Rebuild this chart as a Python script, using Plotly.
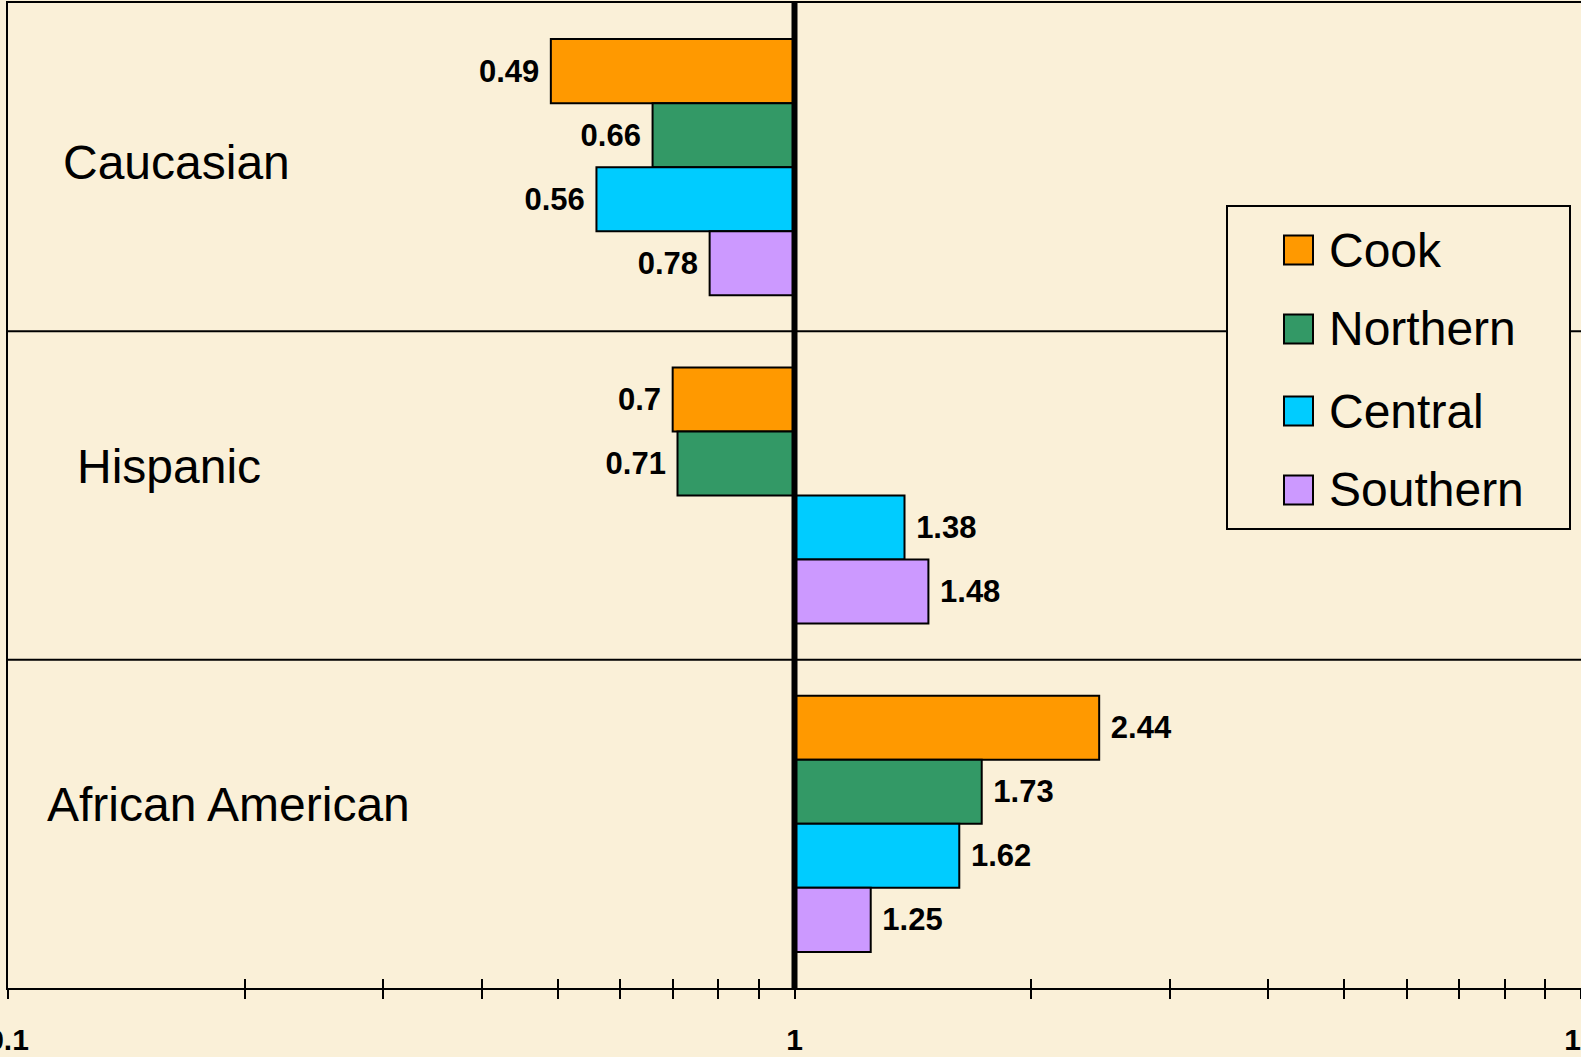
import plotly.graph_objects as go

categories = ["Caucasian", "Hispanic", "African American"]
series_names = ["Cook", "Northern", "Central", "Southern"]
series_colors = ["#FF9900", "#339966", "#00CCFF", "#CC99FF"]
cook = [0.49, 0.70, 2.44]
northern = [0.66, 0.71, 1.73]
central = [0.56, 1.38, 1.62]
southern = [0.78, 1.48, 1.25]
series_values = [cook, northern, central, southern]

major_ticks = [0.1, 1, 10]
major_tick_text = ["0.1", "1", "10"]
minor_ticks = [0.2, 0.3, 0.4, 0.5, 0.6, 0.7, 0.8, 0.9, 2, 3, 4, 5, 6, 7, 8, 9]

BG = "#FAF0D8"
FONT = "Arial, Liberation Sans, sans-serif"
BASE = 1.0

fig = go.Figure()
for name, color, vals in zip(series_names, series_colors, series_values):
    texts = [(f"{v:g}\u00a0" if v < BASE else f"\u00a0{v:g}") for v in vals]
    fig.add_trace(go.Bar(
        name=name,
        y=categories,
        x=[v - BASE for v in vals],
        base=BASE,
        orientation="h",
        marker=dict(color=color, line=dict(color="black", width=2)),
        text=texts,
        textposition="outside",
        constraintext="none",
        cliponaxis=False,
        textfont=dict(family=FONT, size=31, color="black", weight="bold"),
        showlegend=False,
        hovertemplate="%{y}: %{text}<extra>" + name + "</extra>",
    ))

# helper empty trace to draw inward tick marks on an overlay axis
fig.add_trace(go.Scatter(x=[], y=[], xaxis="x2", yaxis="y", showlegend=False))

fig.update_layout(
    width=1581, height=1057,
    margin=dict(l=8, r=0, t=3, b=69),
    paper_bgcolor=BG, plot_bgcolor=BG,
    barmode="group", bargap=0.22, bargroupgap=0,
    showlegend=False,
    xaxis=dict(
        type="log", range=[-1, 1], showgrid=False, zeroline=False,
        showline=True, linecolor="black", linewidth=2, mirror=True,
        tickvals=major_ticks, ticktext=major_tick_text,
        ticks="outside", ticklen=9, tickwidth=2, tickcolor="black",
        minor=dict(tickvals=minor_ticks, ticks="outside", ticklen=9,
                   tickwidth=2, tickcolor="black", showgrid=False),
        tickfont=dict(family=FONT, size=30, color="black", weight="bold"),
        ticklabelstandoff=15,
        ticklabeloverflow="allow",
        automargin=False,
    ),
    xaxis2=dict(
        type="log", range=[-1, 1], overlaying="x", anchor="y", side="bottom",
        showgrid=False, zeroline=False, showline=False, showticklabels=False,
        tickvals=major_ticks,
        ticks="inside", ticklen=9, tickwidth=2, tickcolor="black",
        minor=dict(tickvals=minor_ticks, ticks="inside", ticklen=9,
                   tickwidth=2, tickcolor="black", showgrid=False),
        automargin=False,
    ),
    yaxis=dict(
        type="category", categoryorder="array", categoryarray=categories,
        range=[len(categories) - 0.5, -0.5],
        showgrid=False, zeroline=False, showticklabels=False, ticks="",
        showline=True, linecolor="black", linewidth=2, mirror=False,
        automargin=False,
    ),
)

# category separator lines
for i in range(len(categories) - 1):
    fig.add_shape(type="line", xref="paper", yref="y", x0=0, x1=1,
                  y0=i + 0.5, y1=i + 0.5, line=dict(color="black", width=2),
                  layer="below")

# reference line at 1
fig.add_shape(type="line", xref="x", yref="paper", x0=BASE, x1=BASE, y0=0, y1=1,
              line=dict(color="black", width=6), layer="above")

# category labels inside the plot
label_pos = {"Caucasian": (0.034, 0.8376), "Hispanic": (0.0425, 0.529),
             "African American": (0.0238, 0.1868)}
for cat in categories:
    lx, ly = label_pos[cat]
    fig.add_annotation(text=cat, xref="paper", yref="paper", x=lx, y=ly,
                       xanchor="left", yanchor="middle", showarrow=False,
                       font=dict(family=FONT, size=48, color="black"))

# legend box
def px_x(px):
    return (px - 8) / 1573.0

def px_y(py):
    return (988 - py) / 985.0

fig.add_shape(type="rect", xref="paper", yref="paper",
              x0=px_x(1227), x1=px_x(1570), y0=px_y(529), y1=px_y(206),
              fillcolor=BG, line=dict(color="black", width=2), layer="above")
legend_rows_y = [250, 329, 411, 490]
for name, color, ry in zip(series_names, series_colors, legend_rows_y):
    fig.add_shape(type="rect", xref="paper", yref="paper",
                  x0=px_x(1284), x1=px_x(1313), y0=px_y(ry + 14.5), y1=px_y(ry - 14.5),
                  fillcolor=color, line=dict(color="black", width=2), layer="above")
    fig.add_annotation(text=name, xref="paper", yref="paper", x=px_x(1327), y=px_y(ry),
                       xanchor="left", yanchor="middle", showarrow=False,
                       font=dict(family=FONT, size=48, color="black"))

fig.write_html(
    "out.html",
    config={"displayModeBar": False},
    post_script="document.body.style.margin='0';document.body.style.overflow='hidden';"
                "document.documentElement.style.background='" + BG + "';",
)
